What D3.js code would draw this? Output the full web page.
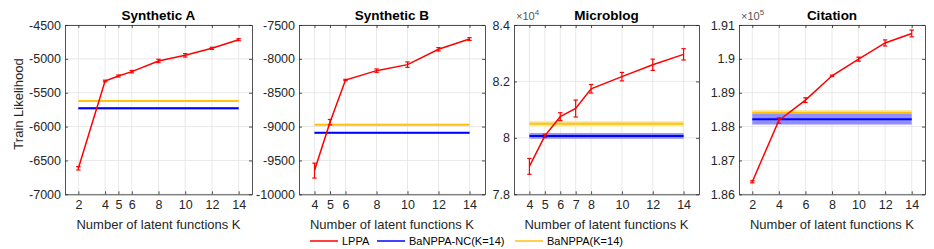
<!DOCTYPE html>
<html><head><meta charset="utf-8">
<script src="https://cdn.jsdelivr.net/npm/d3@7"></script>
<style>body{margin:0;background:#fff}svg{display:block;font-family:"Liberation Sans",Arial,sans-serif}</style>
</head><body><div id="c"></div>
<script>
const titles = ["Synthetic A", "Synthetic B", "Microblog", "Citation"];
const xDomains = [[1, 15], [3, 15], [3, 15], [1, 15]];
const xTicks = [[2, 4, 5, 6, 8, 10, 12, 14], [4, 5, 6, 8, 10, 12, 14], [4, 5, 6, 7, 8, 10, 12, 14], [2, 4, 6, 8, 10, 12, 14]];
const yDomains = [[-7000, -4500], [-10000, -7500], [7.8, 8.4], [1.86, 1.91]];
const yTicks = [[-7000, -6500, -6000, -5500, -5000, -4500], [-10000, -9500, -9000, -8500, -8000, -7500], [7.8, 8.0, 8.2, 8.4], [1.86, 1.87, 1.88, 1.89, 1.90, 1.91]];
const yTickLabels = [["-7000", "-6500", "-6000", "-5500", "-5000", "-4500"], ["-10000", "-9500", "-9000", "-8500", "-8000", "-7500"], ["7.8", "8", "8.2", "8.4"], ["1.86", "1.87", "1.88", "1.89", "1.9", "1.91"]];
const exponents = [null, null, "4", "5"];
// LPPA series: K values, means, error half-widths
const lppaK = [[2, 4, 5, 6, 8, 10, 12, 14], [4, 5, 6, 8, 10, 12, 14], [4, 5, 6, 7, 8, 10, 12, 14], [2, 4, 6, 8, 10, 12, 14]];
const lppaMean = [
  [-6616, -5327, -5253, -5189, -5031, -4948, -4844, -4717],
  [-9650, -8935, -8312, -8174, -8085, -7859, -7707],
  [7.899, 8.007, 8.075, 8.104, 8.174, 8.217, 8.259, 8.296],
  [1.8637, 1.8818, 1.8878, 1.8950, 1.8999, 1.9047, 1.9075]
];
const lppaErr = [
  [25, 12, 15, 18, 25, 25, 15, 15],
  [110, 40, 10, 25, 40, 25, 20],
  [0.028, 0.006, 0.014, 0.03, 0.015, 0.015, 0.02, 0.02],
  [0.0003, 0.0008, 0.0007, 0.0002, 0.0006, 0.0009, 0.001]
];
// BaNPPA-NC(K=14) mean and std band
const ncMean = [-5730, -9092, 8.007, 1.8822];
const ncStd = [15, 12, 0.01, 0.0016];
// BaNPPA(K=14) mean and std band
const bMean = [-5622, -8972, 8.050, 1.8841];
const bStd = [10, 15, 0.01, 0.0008];
const legendLabels = ["LPPA", "BaNPPA-NC(K=14)", "BaNPPA(K=14)"];
const colors = ["#ff0000", "#0000ff", "#ffc20e"];
const bandColors = ["", "#8f8fff", "#fde9a0"];

const W = 934, H = 249;
const panels = [[65, 252], [299, 485], [514, 699], [739, 925]];
const plotTop = 25, plotBottom = 194.3;
const axisCol = "#262626";

const svg = d3.select("#c").append("svg").attr("width", W).attr("height", H);

panels.forEach((p, i) => {
  const x = d3.scaleLinear().domain(xDomains[i]).range(p);
  const y = d3.scaleLinear().domain(yDomains[i]).range([plotBottom, plotTop]);
  const g = svg.append("g");
  // grid
  g.selectAll(".gx").data(xTicks[i]).join("line").attr("x1", d => x(d)).attr("x2", d => x(d))
    .attr("y1", plotTop).attr("y2", plotBottom).attr("stroke", "#e3e3e3").attr("stroke-width", 0.8);
  g.selectAll(".gy").data(yTicks[i]).join("line").attr("y1", d => y(d)).attr("y2", d => y(d))
    .attr("x1", p[0]).attr("x2", p[1]).attr("stroke", "#e3e3e3").attr("stroke-width", 0.8);

  const x0 = x(lppaK[i][0]), x1 = x(14);
  // BaNPPA band + line
  g.append("rect").attr("x", x0).attr("width", x1 - x0).attr("y", y(bMean[i] + bStd[i]))
    .attr("height", y(bMean[i] - bStd[i]) - y(bMean[i] + bStd[i])).attr("fill", bandColors[2]);
  g.append("line").attr("x1", x0).attr("x2", x1).attr("y1", y(bMean[i])).attr("y2", y(bMean[i]))
    .attr("stroke", colors[2]).attr("stroke-width", 2);
  // NC band + line
  g.append("rect").attr("x", x0).attr("width", x1 - x0).attr("y", y(ncMean[i] + ncStd[i]))
    .attr("height", y(ncMean[i] - ncStd[i]) - y(ncMean[i] + ncStd[i])).attr("fill", bandColors[1]);
  g.append("line").attr("x1", x0).attr("x2", x1).attr("y1", y(ncMean[i])).attr("y2", y(ncMean[i]))
    .attr("stroke", colors[1]).attr("stroke-width", 2);

  // LPPA line
  const pts = lppaK[i].map((k, j) => [k, lppaMean[i][j], lppaErr[i][j]]);
  g.append("path").datum(pts).attr("fill", "none").attr("stroke", colors[0]).attr("stroke-width", 1.5)
    .attr("d", d3.line().x(d => x(d[0])).y(d => y(d[1])));
  const eb = g.selectAll(".eb").data(pts).join("g").attr("stroke", colors[0]).attr("stroke-width", 1.2);
  eb.append("line").attr("x1", d => x(d[0])).attr("x2", d => x(d[0])).attr("y1", d => y(d[1] - d[2])).attr("y2", d => y(d[1] + d[2]));
  eb.append("line").attr("x1", d => x(d[0]) - 2.2).attr("x2", d => x(d[0]) + 2.2).attr("y1", d => y(d[1] - d[2])).attr("y2", d => y(d[1] - d[2]));
  eb.append("line").attr("x1", d => x(d[0]) - 2.2).attr("x2", d => x(d[0]) + 2.2).attr("y1", d => y(d[1] + d[2])).attr("y2", d => y(d[1] + d[2]));

  // axes
  const xb = g.append("g").attr("transform", `translate(0,${plotBottom})`)
    .call(d3.axisBottom(x).tickValues(xTicks[i]).tickSize(-3).tickPadding(6).tickSizeOuter(0));
  const xt = g.append("g").attr("transform", `translate(0,${plotTop})`)
    .call(d3.axisTop(x).tickValues(xTicks[i]).tickSize(-3).tickFormat("").tickSizeOuter(0));
  const yl = g.append("g").attr("transform", `translate(${p[0]},0)`)
    .call(d3.axisLeft(y).tickValues(yTicks[i]).tickSize(-3).tickPadding(4).tickSizeOuter(0)
      .tickFormat((d, j) => yTickLabels[i][j]));
  const yr = g.append("g").attr("transform", `translate(${p[1]},0)`)
    .call(d3.axisRight(y).tickValues(yTicks[i]).tickSize(-3).tickFormat("").tickSizeOuter(0));
  [xb, xt, yl, yr].forEach(a => {
    a.selectAll("path").attr("stroke", axisCol).attr("stroke-width", 0.8);
    a.selectAll("line").attr("stroke", axisCol).attr("stroke-width", 0.8);
    a.selectAll("text").attr("fill", axisCol).attr("font-size", 12.5).attr("font-family", "Liberation Sans, Arial, sans-serif");
  });

  // x label
  g.append("text").attr("x", (p[0] + p[1]) / 2).attr("y", 229).attr("text-anchor", "middle")
    .attr("font-size", 13).attr("fill", axisCol).text("Number of latent functions K");
  // title
  g.append("text").attr("x", (p[0] + p[1]) / 2).attr("y", 20).attr("text-anchor", "middle")
    .attr("font-size", 13.5).attr("font-weight", "bold").attr("fill", "#000").text(titles[i]);
  if (exponents[i]) {
    const t = g.append("text").attr("x", p[0] + 2).attr("y", 20).attr("font-size", 11).attr("fill", "#555");
    t.append("tspan").text("\u00d710");
    t.append("tspan").attr("dy", -5).attr("font-size", 8).text(exponents[i]);
  }
});

// y label
svg.append("text").attr("transform", "translate(23,104) rotate(-90)").attr("text-anchor", "middle")
  .attr("font-size", 13).attr("fill", axisCol).text("Train Likelihood");

// legend
const legX = [310, 377, 515];
const lg = svg.append("g");
legendLabels.forEach((l, i) => {
  lg.append("line").attr("x1", legX[i]).attr("x2", legX[i] + 28).attr("y1", 241).attr("y2", 241)
    .attr("stroke", colors[i]).attr("stroke-width", 1.5);
  lg.append("text").attr("x", legX[i] + 32).attr("y", 245).attr("font-size", 11).attr("fill", "#000").text(l);
});
</script></body></html>
